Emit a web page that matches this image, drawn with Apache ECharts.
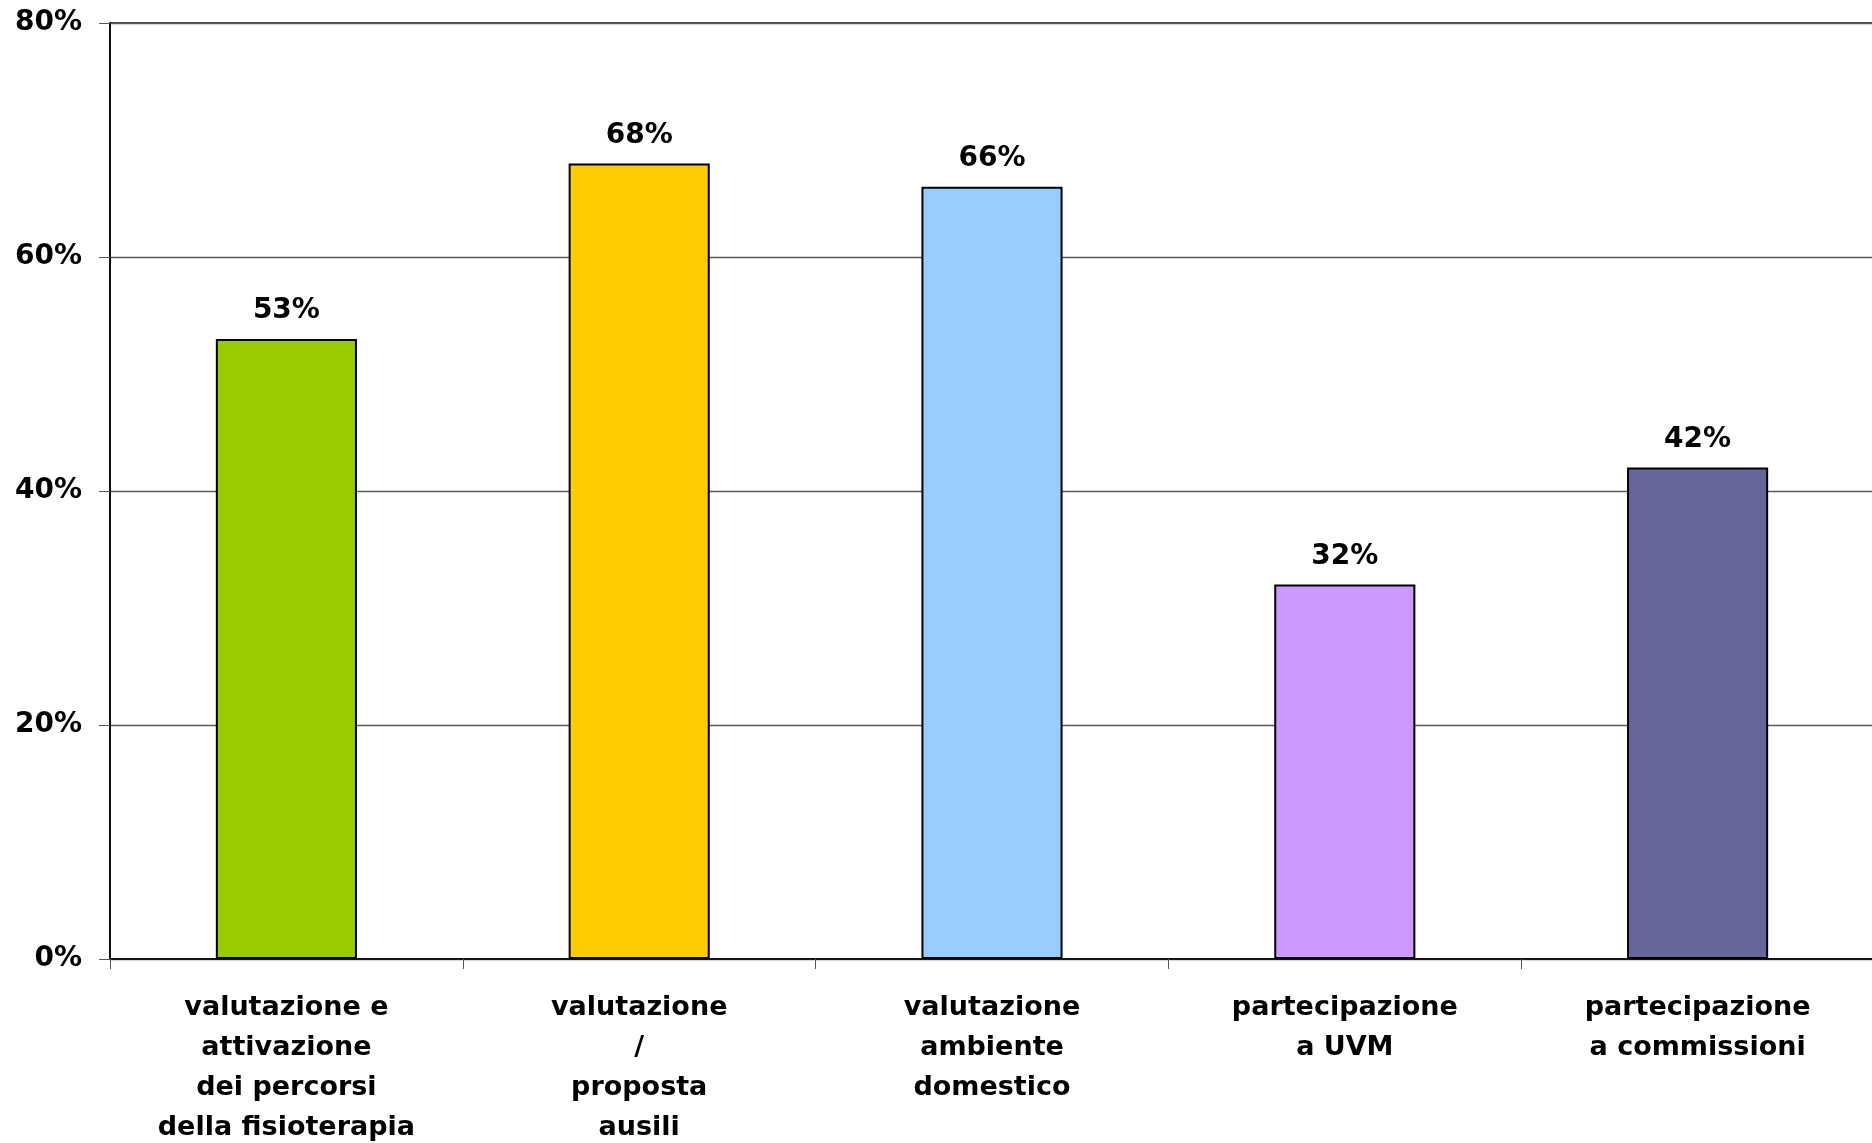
<!DOCTYPE html>
<html>
<head>
<meta charset="utf-8">
<script src="https://cdn.jsdelivr.net/npm/echarts@6/dist/echarts.min.js"></script>
<style>
html,body{margin:0;padding:0;background:#fff;}
#chart{width:1872px;height:1143px;}
</style>
</head>
<body>
<div id="chart"></div>
<script>
var categories = [
  "valutazione e\nattivazione\ndei percorsi\ndella fisioterapia",
  "valutazione\n/\nproposta\nausili",
  "valutazione\nambiente\ndomestico",
  "partecipazione\na UVM",
  "partecipazione\na commissioni"
];
var values = [53, 68, 66, 32, 42];
var barColors = ["#99CC00", "#FFCC00", "#99CCFF", "#CC99FF", "#666699"];
var yTicks = [0, 20, 40, 60, 80];

var FONT = "DejaVu Sans";
var chart = echarts.init(document.getElementById('chart'), null, {renderer: 'canvas'});
chart.setOption({
  animation: false,
  backgroundColor: '#ffffff',
  grid: {
    left: 110, top: 23, right: -2, bottom: 184,
    outerBoundsMode: 'none', containLabel: false,
    show: true, borderColor: '#000', borderWidth: 1.5, backgroundColor: 'transparent'
  },
  xAxis: {
    type: 'category',
    data: categories,
    axisLine: {show: true, lineStyle: {color: '#000', width: 1.5}},
    axisTick: {show: true, length: 10, lineStyle: {color: '#555'}},
    axisLabel: {
      interval: 0, margin: 29, color: '#000',
      fontFamily: FONT, fontWeight: 'bold', fontSize: 27, lineHeight: 40, align: 'center'
    }
  },
  yAxis: {
    type: 'value',
    min: yTicks[0], max: yTicks[yTicks.length - 1], interval: 20,
    axisLine: {show: true, lineStyle: {color: '#000', width: 1.5}},
    axisTick: {show: true, length: 11, lineStyle: {color: '#555'}},
    axisLabel: {
      margin: 28, color: '#000', fontFamily: FONT, fontWeight: 'bold', fontSize: 28,
      formatter: '{value}%'
    },
    splitLine: {show: true, lineStyle: {color: '#5a5a5a', width: 1.3}}
  },
  series: [{
    type: 'bar',
    barWidth: '40%',
    data: values.map(function (v, i) {
      return {value: v, itemStyle: {color: barColors[i]}};
    }),
    itemStyle: {borderColor: '#000', borderWidth: 2},
    label: {
      show: true, position: 'top', distance: 14, color: '#000',
      fontFamily: FONT, fontWeight: 'bold', fontSize: 28,
      formatter: '{c}%'
    }
  }]
});
</script>
</body>
</html>
